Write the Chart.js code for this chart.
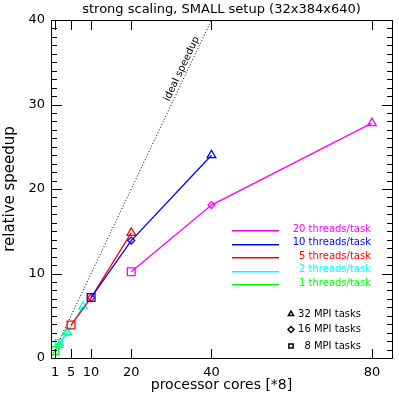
<!DOCTYPE html>
<html>
<head>
<meta charset="utf-8">
<script src="https://cdn.jsdelivr.net/npm/chart.js@4.4.1/dist/chart.umd.min.js"></script>
<style>
  html, body { margin: 0; padding: 0; background: #fff; }
</style>
</head>
<body>
<canvas id="chart" width="399" height="399"></canvas>
<script>
// data (x = processor cores / 8)
const seriesLabels = ['20 threads/task', '10 threads/task', '5 threads/task', '2 threads/task', '1 threads/task'];
const cores20 = [20, 40, 80];
const speedup20 = [10.2, 18.1, 27.8];
const cores10 = [10, 20, 40];
const speedup10 = [7.15, 13.9, 24.0];
const cores5 = [5, 10, 20];
const speedup5 = [3.9, 7.15, 14.8];
const cores2 = [2, 4, 8];
const speedup2 = [1.7, 3.0, 6.1];
const cores1 = [1, 2, 4];
const speedup1 = [0.9, 1.5, 3.05];
const idealCores = [0, 40];
const idealSpeedup = [0, 40];

const mpiLabels = ['32 MPI tasks', '16 MPI tasks', '8 MPI tasks'];
const xTicks = [1, 5, 10, 20, 40, 80];
const yTicks = [0, 10, 20, 30, 40];
const yMinor = [];
for (let v = 0; v <= 40; v++) yMinor.push(v);

const colors = ['#ff00ff', '#0000ff', '#ff0000', '#00ffff', '#00ff00'];
const FONT = 'DejaVu Sans';

function toPoints(xs, ys) {
    return xs.map((x, i) => ({ x: x, y: ys[i] }));
}

const seriesData = [
    toPoints(cores20, speedup20),
    toPoints(cores10, speedup10),
    toPoints(cores5, speedup5),
    toPoints(cores2, speedup2),
    toPoints(cores1, speedup1)
];

const datasets = seriesData.map((pts, i) => ({
    label: seriesLabels[i],
    data: pts,
    borderColor: colors[i],
    borderWidth: 1.3,
    pointStyle: ['rect', 'rectRot', 'triangle'],
    pointRadius: [5.5, 3.5, 5],
    pointBorderWidth: 1.3,
    pointBorderColor: colors[i],
    pointBackgroundColor: 'rgba(0,0,0,0)',
    fill: false,
    tension: 0
}));

datasets.push({
    label: 'ideal speedup',
    data: toPoints(idealCores, idealSpeedup),
    borderColor: '#000',
    borderWidth: 1,
    borderDash: [1, 2],
    pointRadius: 0,
    fill: false
});

// frame, inward ticks, line label and the two legends (IDL style)
const decorations = {
    id: 'decorations',
    afterDraw(chart) {
        const ctx = chart.ctx;
        const area = chart.chartArea;
        const xs = chart.scales.x;
        const ys = chart.scales.y;
        const L = Math.round(area.left), R = Math.round(area.right);
        const T = Math.round(area.top), B = Math.round(area.bottom);
        ctx.save();
        ctx.setLineDash([]);
        ctx.fillStyle = '#000000';
        ctx.fillRect(L, T, R - L + 1, 1);
        ctx.fillRect(L, B, R - L + 1, 1);
        ctx.fillRect(L, T, 1, B - T + 1);
        ctx.fillRect(R, T, 1, B - T + 1);

        xTicks.forEach(v => {
            const px = Math.round(xs.getPixelForValue(v));
            ctx.fillRect(px, B - 9, 1, 9);
            ctx.fillRect(px, T + 1, 1, 9);
        });
        yMinor.forEach(v => {
            const py = Math.round(ys.getPixelForValue(v));
            const len = v % 10 === 0 ? 10 : 5;
            ctx.fillRect(L + 1, py, len, 1);
            ctx.fillRect(R - len, py, len, 1);
        });

        // "ideal speedup" along the dotted line
        const ang = Math.atan2(ys.getPixelForValue(40) - ys.getPixelForValue(0),
            xs.getPixelForValue(40) - xs.getPixelForValue(0));
        ctx.font = '10px "' + FONT + '"';
        ctx.save();
        ctx.translate(xs.getPixelForValue(32.6), ys.getPixelForValue(34.2));
        ctx.rotate(ang);
        ctx.textAlign = 'center';
        ctx.textBaseline = 'middle';
        ctx.fillText('ideal speedup', 0, 0);
        ctx.restore();

        // threads legend
        ctx.textAlign = 'right';
        ctx.textBaseline = 'middle';
        seriesLabels.forEach((lab, i) => {
            const ty = 229 + i * 13.5;
            ctx.fillStyle = colors[i];
            ctx.fillRect(232, Math.round(ty + 1), 47, 1.5);
            ctx.fillText(lab, 371, ty);
        });

        // MPI tasks legend
        const styles = ['triangle', 'rectRot', 'rect'];
        const legY = [314, 329.5, 346];
        ctx.strokeStyle = '#000';
        ctx.lineWidth = 1.5;
        mpiLabels.forEach((lab, i) => {
            ctx.fillStyle = 'rgba(0,0,0,0)';
            Chart.helpers.drawPoint(ctx, { pointStyle: styles[i], radius: 3, rotation: 0, borderWidth: 1.5 }, 291, legY[i]);
            ctx.fillStyle = '#000';
            ctx.fillText(lab, 361, legY[i]);
        });
        ctx.restore();
    }
};

new Chart(document.getElementById('chart'), {
    type: 'line',
    data: { datasets: datasets },
    plugins: [decorations],
    options: {
        responsive: false,
        animation: false,
        layout: { padding: { right: 7 } },
        plugins: { legend: { display: false }, tooltip: { enabled: false } },
        scales: {
            x: {
                type: 'linear',
                min: 0,
                max: 85,
                afterBuildTicks: s => { s.ticks = xTicks.map(v => ({ value: v })); },
                afterFit: s => { s.height = 41; },
                grid: { display: false, drawTicks: true, tickLength: 8 },
                border: { display: false },
                ticks: { padding: 0, color: '#000', font: { family: FONT, size: 13, lineHeight: 1 } },
                title: {
                    display: true, text: 'processor cores [*8]', color: '#000',
                    font: { family: FONT, size: 14, lineHeight: 1 },
                    padding: { top: 0, bottom: 7 }
                }
            },
            x2: {
                type: 'linear',
                position: 'top',
                min: 0,
                max: 85,
                afterFit: s => { s.height = 20; },
                grid: { display: false, drawTicks: false },
                border: { display: false },
                ticks: { display: false },
                title: {
                    display: true, text: 'strong scaling, SMALL setup (32x384x640)', color: '#000',
                    font: { family: FONT, size: 13, lineHeight: 1 },
                    padding: { top: 3.5, bottom: 3.5 }
                }
            },
            y: {
                type: 'linear',
                min: 0,
                max: 40,
                afterBuildTicks: s => { s.ticks = yTicks.map(v => ({ value: v })); },
                afterFit: s => { s.width = 51; },
                grid: { display: false, drawTicks: true, tickLength: 6 },
                border: { display: false },
                ticks: { padding: 0, color: '#000', font: { family: FONT, size: 13, lineHeight: 1 } },
                title: {
                    display: true, text: 'relative speedup', color: '#000',
                    font: { family: FONT, size: 15, lineHeight: 1 },
                    padding: { top: 3, bottom: 0 }
                }
            }
        }
    }
});
</script>
</body>
</html>
